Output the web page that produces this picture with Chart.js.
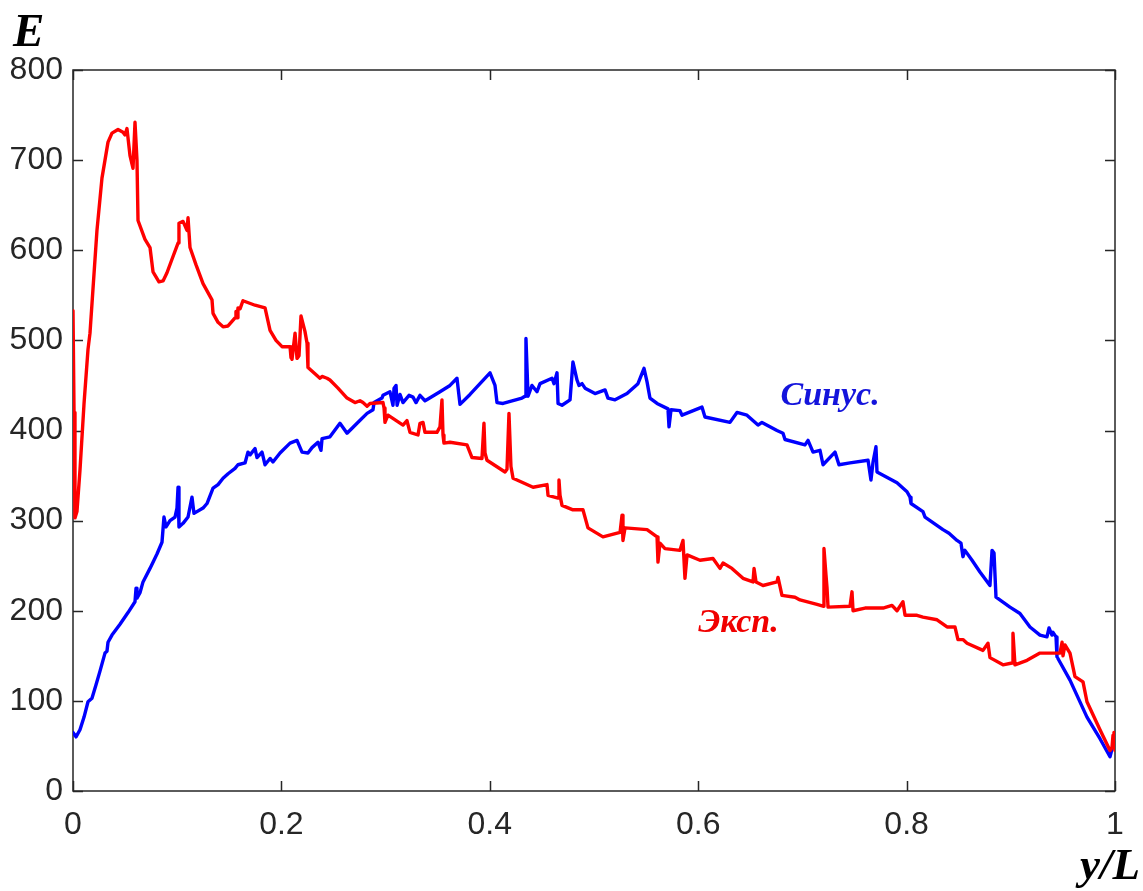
<!DOCTYPE html>
<html>
<head>
<meta charset="utf-8">
<script src="https://cdn.jsdelivr.net/npm/chart.js@4.4.1/dist/chart.umd.min.js"></script>
<style>
  html, body { margin: 0; padding: 0; background: #fff; }
  #wrap { width: 1143px; height: 891px; position: relative; }
</style>
</head>
<body>
<div id="wrap"><canvas id="graphic"></canvas></div>
<script>
// y/L positions and energy values
const expX = [0, 0.001, 0.0019, 0.0038, 0.0067, 0.0106, 0.0144, 0.0163, 0.023, 0.0278, 0.0336, 0.0374, 0.0432, 0.048, 0.0499, 0.0518, 0.0547, 0.0576, 0.0595, 0.0614, 0.0624,
  0.0691, 0.0739, 0.0768, 0.0825, 0.0864, 0.0902, 0.095, 0.1008, 0.1017, 0.1056, 0.1094, 0.1104, 0.1123, 0.118, 0.1248, 0.1334, 0.1344, 0.1392, 0.144, 0.1488,
  0.1555, 0.1564, 0.1574, 0.1583, 0.1603, 0.1631, 0.1747, 0.1843, 0.1891, 0.1948, 0.2006, 0.2083, 0.2092, 0.2102, 0.2131, 0.215, 0.2169, 0.2188, 0.2226, 0.2246,
  0.2255, 0.2322, 0.237, 0.239, 0.2438, 0.2466, 0.2543, 0.263, 0.2706, 0.2754, 0.2783, 0.2822, 0.285, 0.2975, 0.2985, 0.2994, 0.3023, 0.3167, 0.3205, 0.3234,
  0.3311, 0.333, 0.3359, 0.3378, 0.3493, 0.3522, 0.3541, 0.3551, 0.356, 0.3618, 0.3781, 0.3829, 0.3925, 0.3944, 0.3954, 0.3973, 0.4146, 0.4165, 0.4184, 0.4203,
  0.4223, 0.4261, 0.4415, 0.4549, 0.4559, 0.4655, 0.4664, 0.4674, 0.4693, 0.4798, 0.4894, 0.4942, 0.5086, 0.525, 0.5269, 0.5278, 0.5298, 0.5509, 0.5605, 0.5614,
  0.5633, 0.5681, 0.5825, 0.5854, 0.5873, 0.5893, 0.6017, 0.6142, 0.6209, 0.6238, 0.6324, 0.643, 0.6526, 0.6536, 0.6555, 0.6622, 0.6756, 0.6766, 0.6804, 0.6929,
  0.6977, 0.714, 0.7198, 0.7207, 0.7226, 0.7236, 0.7246, 0.7457, 0.7476, 0.7486, 0.7601, 0.7774, 0.786, 0.7908, 0.7965, 0.7985, 0.81, 0.8157, 0.8292, 0.834,
  0.8388, 0.8464, 0.8493, 0.8541, 0.858, 0.8733, 0.8781, 0.88, 0.8925, 0.9012, 0.9021, 0.904, 0.9156, 0.928, 0.9472, 0.9492, 0.9501, 0.952, 0.9568, 0.9616,
  0.9693, 0.9731, 0.9856, 0.9952, 0.9971, 0.9981, 0.999, 1.0];
const expE = [533, 420, 303, 310, 356, 430, 490, 508, 622, 680, 720, 730, 734, 731, 728, 735, 705, 691, 742, 700, 633,
  612, 603, 576, 565, 566, 575, 590, 608, 630, 632, 622, 636, 603, 584, 563, 545, 530, 520, 515, 516,
  525, 532, 525, 536, 535, 544, 539, 536, 511, 500, 493, 493, 481, 479, 508, 480, 483, 527, 510, 497,
  470, 463, 458, 460, 458, 456, 447, 436, 431, 433, 431, 427, 430, 431, 425, 409, 417, 406, 411, 398,
  395, 408, 409, 398, 398, 404, 434, 395, 386, 387, 384, 370, 369, 408, 375, 367, 354, 357, 419, 360,
  347, 345, 337, 340, 328, 325, 345, 328, 317, 312, 312, 292, 282, 287, 306, 278, 292, 290, 282, 254,
  275, 269, 267, 278, 236, 262, 256, 258, 247, 253, 247, 236, 232, 247, 232, 228, 232, 237, 217, 215,
  212, 207, 205, 269, 240, 226, 204, 205, 221, 200, 203, 203, 206, 200, 210, 195, 195, 193, 190, 186,
  182, 182, 168, 168, 164, 156, 164, 148, 140, 142, 175, 140, 145, 153, 153, 165, 150, 162, 153, 127,
  121, 99, 68, 45, 48, 62, 65, 45];

const sinX = [0, 0.0029, 0.0067, 0.0106, 0.0144, 0.0182, 0.0221, 0.0259, 0.0307, 0.0326, 0.0336, 0.0374, 0.0451, 0.0528, 0.0595, 0.0605, 0.0614, 0.0643, 0.0672, 0.0739,
  0.0806, 0.0854, 0.0873, 0.0893, 0.0931, 0.0979, 0.0998, 0.1008, 0.1017, 0.1056, 0.1104, 0.1142, 0.1161, 0.1248, 0.1286, 0.1344, 0.1392, 0.144, 0.1488, 0.1555,
  0.1583, 0.1651, 0.1679, 0.1699, 0.1747, 0.1766, 0.1814, 0.1843, 0.1891, 0.1919, 0.1987, 0.2083, 0.215, 0.2198, 0.2255, 0.2294, 0.2351, 0.238, 0.239, 0.2466,
  0.2562, 0.263, 0.2726, 0.2822, 0.2879, 0.2889, 0.2965, 0.2975, 0.3042, 0.3071, 0.3081, 0.31, 0.311, 0.3138, 0.3167, 0.3225, 0.3263, 0.3292, 0.333, 0.3378,
  0.3407, 0.3522, 0.3618, 0.3685, 0.3714, 0.381, 0.3906, 0.4002, 0.405, 0.4069, 0.4127, 0.4309, 0.4338, 0.4347, 0.4367, 0.4405, 0.4453, 0.4482, 0.4597, 0.4616,
  0.4645, 0.4655, 0.4693, 0.477, 0.4798, 0.4837, 0.4856, 0.4885, 0.4914, 0.501, 0.5106, 0.5134, 0.5202, 0.5317, 0.5422, 0.548, 0.5509, 0.5537, 0.5605, 0.571,
  0.572, 0.5739, 0.5825, 0.5845, 0.6036, 0.6065, 0.6305, 0.6372, 0.6468, 0.6574, 0.6612, 0.6756, 0.6814, 0.6833, 0.7025, 0.7054, 0.7102, 0.7169, 0.7198, 0.7313,
  0.7351, 0.7457, 0.763, 0.7658, 0.7678, 0.7706, 0.7716, 0.7908, 0.8004, 0.8033, 0.8042, 0.8157, 0.8177, 0.8349, 0.8407, 0.8484, 0.8522, 0.8541, 0.856, 0.8628,
  0.8704, 0.88, 0.882, 0.8839, 0.8858, 0.8992, 0.9088, 0.9184, 0.928, 0.9347, 0.9367, 0.9395, 0.9405, 0.9434, 0.9443, 0.9568, 0.9731, 0.9856, 0.9952, 0.999];
const sinE = [65, 60, 68, 82, 99, 103, 118, 133, 153, 155, 165, 173, 185, 198, 210, 225, 214, 220, 232, 247,
  263, 276, 304, 293, 300, 304, 314, 337, 293, 297, 304, 326, 308, 314, 319, 336, 340, 347, 352, 358,
  362, 364, 376, 373, 380, 370, 376, 362, 369, 365, 375, 386, 389, 376, 375, 381, 387, 378, 391, 393,
  408, 397, 408, 419, 423, 431, 436, 439, 443, 428, 447, 450, 428, 440, 431, 439, 437, 431, 439, 433,
  435, 443, 450, 458, 429, 440, 452, 464, 450, 431, 430, 436, 438, 502, 438, 450, 443, 452, 458, 452,
  464, 430, 428, 434, 476, 456, 450, 452, 447, 441, 445, 436, 434, 441, 452, 469, 454, 436, 430, 424,
  404, 423, 422, 417, 426, 415, 409, 420, 417, 406, 409, 400, 397, 390, 384, 389, 376, 378, 362, 376,
  362, 364, 367, 345, 365, 382, 354, 342, 332, 326, 319, 310, 304, 290, 286, 278, 275, 260, 267, 256,
  243, 228, 267, 264, 215, 204, 197, 182, 173, 171, 181, 173, 176, 171, 149, 123, 82, 58, 38, 55];

const xTicks = [0, 0.2, 0.4, 0.6, 0.8, 1];
const yTicks = [0, 100, 200, 300, 400, 500, 600, 700, 800];

// where the curve names sit, in data units
const sinLabel = { text: 'Синус.', x: 0.679, y: 428 };
const expLabel = { text: 'Эксп.', x: 0.6, y: 176 };

function toPoints(xs, ys) {
  return xs.map((v, i) => ({ x: v, y: ys[i] }));
}

const axisColor = '#262626';

// box around the plot with inward ticks on all four sides (MATLAB style)
const frame = {
  id: 'frame',
  beforeDatasetsDraw(chart) {
    const { ctx, chartArea: a, scales } = chart;
    ctx.save();
    ctx.strokeStyle = axisColor;
    ctx.lineWidth = 1.5;
    ctx.strokeRect(a.left, a.top, a.right - a.left, a.bottom - a.top);
    ctx.beginPath();
    xTicks.forEach(t => {
      const px = Math.round(scales.x.getPixelForValue(t)) + 0.5;
      ctx.moveTo(px, a.bottom); ctx.lineTo(px, a.bottom - 10);
      ctx.moveTo(px, a.top); ctx.lineTo(px, a.top + 10);
    });
    yTicks.forEach(t => {
      const py = Math.round(scales.y.getPixelForValue(t)) + 0.5;
      ctx.moveTo(a.left, py); ctx.lineTo(a.left + 10, py);
      ctx.moveTo(a.right, py); ctx.lineTo(a.right - 10, py);
    });
    ctx.stroke();
    ctx.restore();
  },
  afterDraw(chart) {
    const { ctx, scales } = chart;
    ctx.save();
    ctx.textBaseline = 'alphabetic';
    ctx.font = 'italic bold 47px "Liberation Serif", "Times New Roman", serif';
    ctx.fillStyle = '#000';
    ctx.textAlign = 'left';
    ctx.fillText('E', 13, 46);
    ctx.font = 'italic bold 45px "Liberation Serif", "Times New Roman", serif';
    ctx.textAlign = 'right';
    ctx.fillText('y/L', 1140, 879);

    ctx.font = 'italic bold 34px "Liberation Serif", "Times New Roman", serif';
    ctx.textAlign = 'left';
    ctx.fillStyle = '#1414dc';
    ctx.fillText(sinLabel.text, scales.x.getPixelForValue(sinLabel.x), scales.y.getPixelForValue(sinLabel.y));
    ctx.fillStyle = '#f00000';
    ctx.fillText(expLabel.text, scales.x.getPixelForValue(expLabel.x), scales.y.getPixelForValue(expLabel.y));
    ctx.restore();
  }
};

var ctx = document.getElementById('graphic').getContext('2d');
var chart = new Chart(ctx, {
  type: 'line',
  data: {
    datasets: [
      {
        label: 'Эксп.',
        data: toPoints(expX, expE),
        borderColor: '#ff0000',
        borderWidth: 3.4,
        borderJoinStyle: 'round',
        borderCapStyle: 'round',
        pointRadius: 0,
        tension: 0,
        order: 0,
      },
      {
        label: 'Синус.',
        data: toPoints(sinX, sinE),
        borderColor: '#0000ff',
        borderWidth: 3.4,
        borderJoinStyle: 'round',
        borderCapStyle: 'round',
        pointRadius: 0,
        tension: 0,
        order: 1,
      },
    ],
  },
  options: {
    responsive: true,
    maintainAspectRatio: false,
    animation: false,
    layout: { padding: { top: 70, right: 28, left: 0, bottom: 0 } },
    plugins: { legend: { display: false }, tooltip: { enabled: false } },
    scales: {
      x: {
        type: 'linear',
        min: 0,
        max: 1,
        afterFit: s => { s.height = 100; },
        afterBuildTicks: s => { s.ticks = xTicks.map(v => ({ value: v })); },
        grid: { display: false, drawTicks: false },
        border: { display: false },
        ticks: {
          padding: 15,
          color: axisColor,
          maxRotation: 0,
          font: { family: '"Liberation Sans", Arial, sans-serif', size: 32 },
          callback: v => String(v),
        },
      },
      y: {
        min: 0,
        max: 800,
        afterFit: s => { s.width = 73; },
        afterBuildTicks: s => { s.ticks = yTicks.map(v => ({ value: v })); },
        grid: { display: false, drawTicks: false },
        border: { display: false },
        ticks: {
          padding: 10,
          color: axisColor,
          font: { family: '"Liberation Sans", Arial, sans-serif', size: 32 },
          callback: v => String(v),
        },
      },
    },
  },
  plugins: [frame],
});
</script>
</body>
</html>
